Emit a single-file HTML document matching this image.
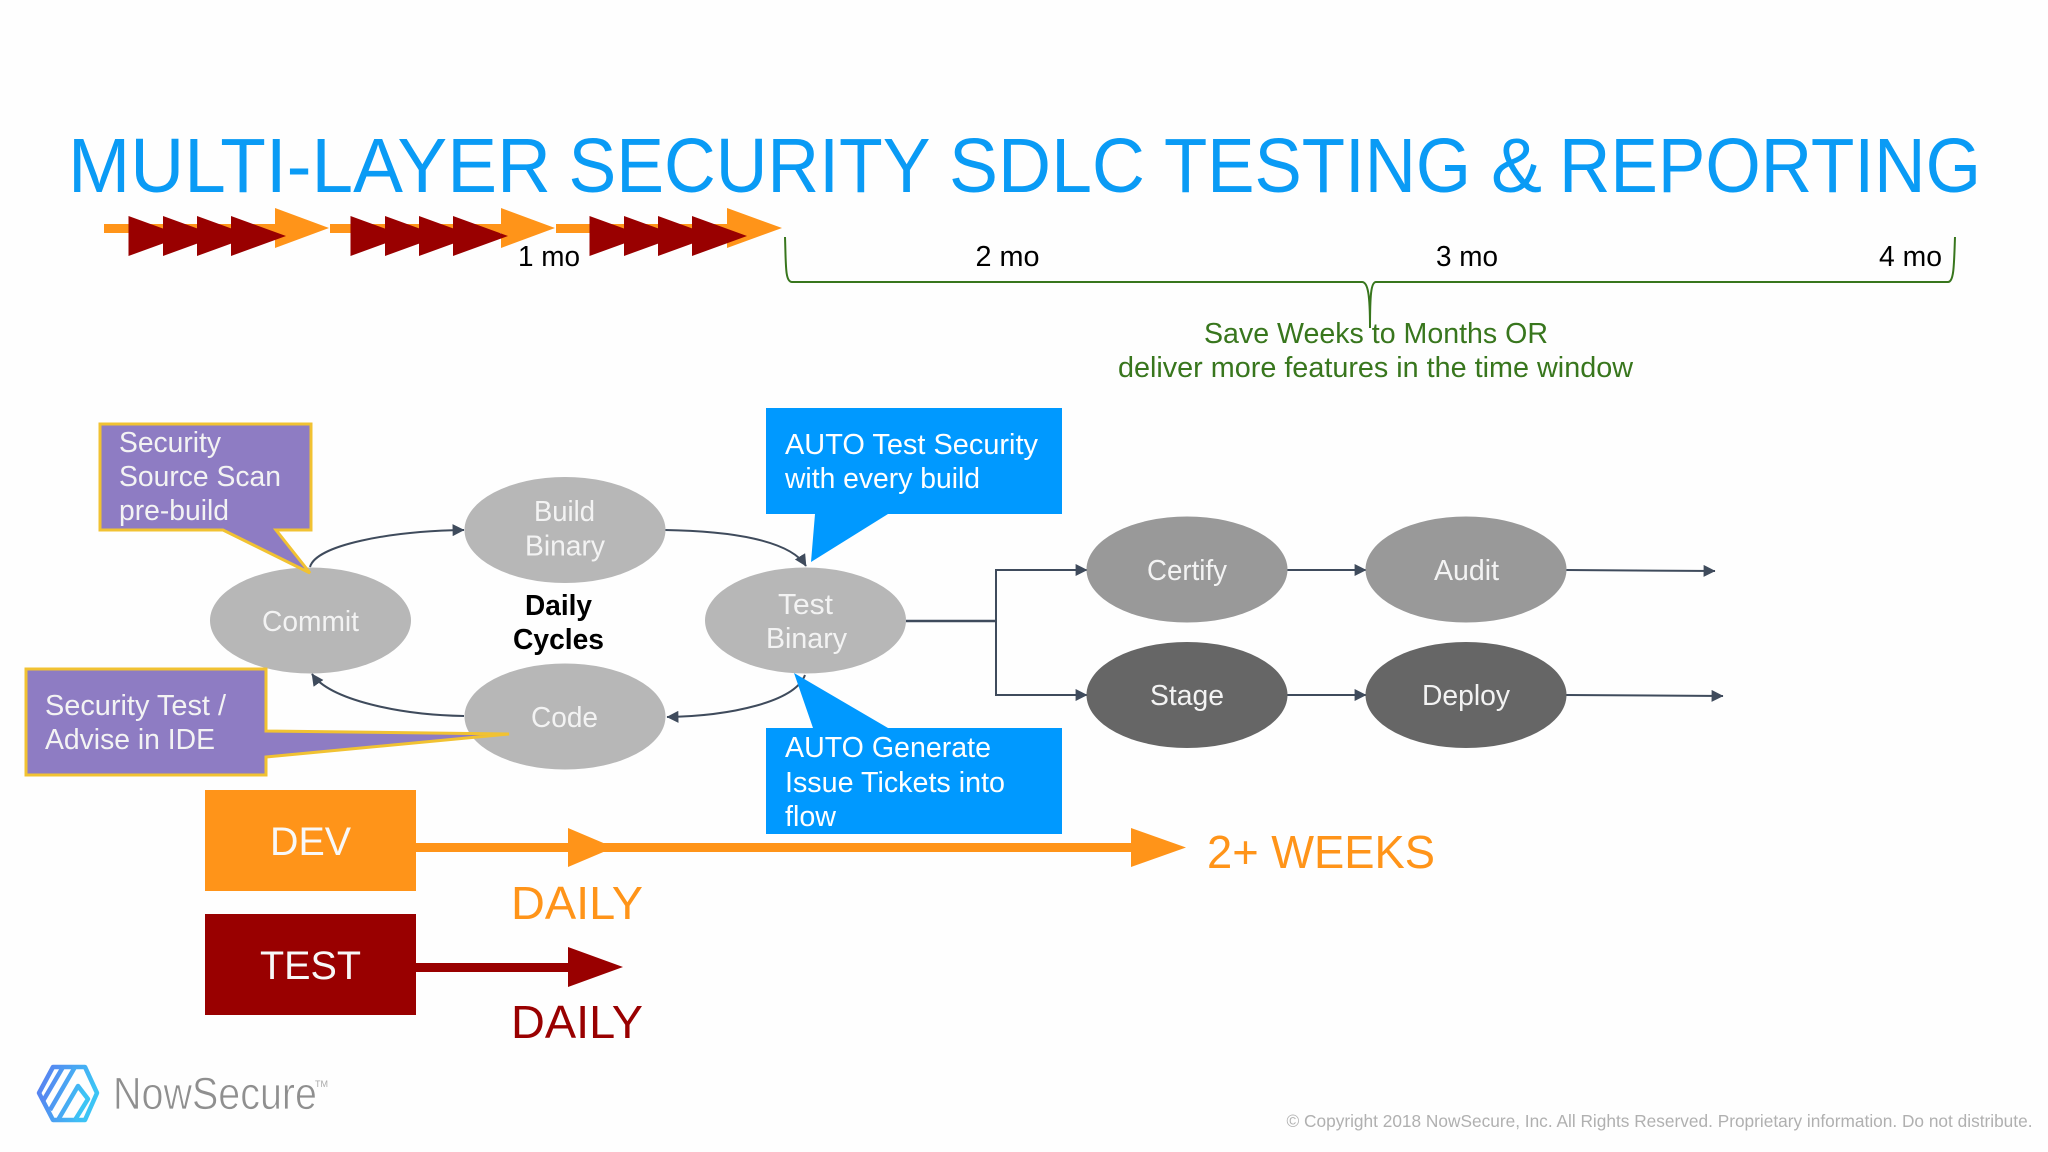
<!DOCTYPE html>
<html>
<head>
<meta charset="utf-8">
<style>
html,body{margin:0;padding:0;background:#fff;width:2048px;height:1152px;overflow:hidden}
svg{display:block}
text{font-family:"Liberation Sans",sans-serif}
</style>
</head>
<body>
<svg xmlns="http://www.w3.org/2000/svg" width="2048" height="1152" viewBox="0 0 2048 1152">
<defs>
<linearGradient id="lg" x1="0" y1="0" x2="1" y2="0.3"><stop offset="0" stop-color="#5b7cf0"/><stop offset="1" stop-color="#3cc4f5"/></linearGradient>
<marker id="a" viewBox="0 0 10 10" refX="9.5" refY="5" markerWidth="12" markerHeight="12" markerUnits="userSpaceOnUse" orient="auto"><path d="M0 0L10 5L0 10Z" fill="#3f4b5c"/></marker>
</defs>
<rect width="2048" height="1152" fill="#fefefe"/>

<g font-size="77" fill="#0a9bf5">
<text x="68" y="192" textLength="483" lengthAdjust="spacingAndGlyphs">MULTI-LAYER</text>
<text x="568.5" y="192" textLength="362" lengthAdjust="spacingAndGlyphs">SECURITY</text>
<text x="949" y="192" textLength="196" lengthAdjust="spacingAndGlyphs">SDLC</text>
<text x="1164" y="192" textLength="307" lengthAdjust="spacingAndGlyphs">TESTING</text>
<text x="1491" y="192" textLength="51" lengthAdjust="spacingAndGlyphs">&amp;</text>
<text x="1559" y="192" textLength="422" lengthAdjust="spacingAndGlyphs">REPORTING</text>
</g>

<!-- timeline arrows -->
<g fill="#ff9419">
<rect x="104" y="224" width="172" height="9"/><path d="M275 208L329 228L275 248Z"/>
<rect x="330" y="224" width="172" height="9"/><path d="M501 208L555 228L501 248Z"/>
<rect x="556" y="224" width="172" height="9"/><path d="M727 208L782 228L727 248Z"/>
</g>
<g fill="#990000">
<path d="M128.5 216L183.5 236L128.5 256Z"/><path d="M163 216L218 236L163 256Z"/><path d="M197 216L252 236L197 256Z"/><path d="M231 216L286 236L231 256Z"/>
<path d="M350.5 216L405.5 236L350.5 256Z"/><path d="M385 216L440 236L385 256Z"/><path d="M419 216L474 236L419 256Z"/><path d="M453 216L508 236L453 256Z"/>
<path d="M589.5 216L644.5 236L589.5 256Z"/><path d="M624 216L679 236L624 256Z"/><path d="M658 216L713 236L658 256Z"/><path d="M692 216L747 236L692 256Z"/>
</g>

<text x="518" y="266" font-size="29" fill="#000" textLength="62" lengthAdjust="spacingAndGlyphs">1 mo</text>
<text x="975.5" y="266" font-size="29" fill="#000" textLength="64" lengthAdjust="spacingAndGlyphs">2 mo</text>
<text x="1436" y="266" font-size="29" fill="#000" textLength="62" lengthAdjust="spacingAndGlyphs">3 mo</text>
<text x="1879" y="266" font-size="29" fill="#000" textLength="63" lengthAdjust="spacingAndGlyphs">4 mo</text>

<!-- brace -->
<path d="M785 237C786 265 785 282 792 282L1362 282C1368 282 1370 295 1370 328C1370 295 1371 282 1376 282L1948 282C1954 282 1954 265 1955 237" fill="none" stroke="#38761d" stroke-width="2"/>
<text x="1204" y="343" font-size="29" fill="#38761d" textLength="344" lengthAdjust="spacingAndGlyphs">Save Weeks to Months OR</text>
<text x="1118" y="377" font-size="29" fill="#38761d" textLength="515" lengthAdjust="spacingAndGlyphs">deliver more features in the time window</text>

<!-- connectors -->
<g fill="none" stroke="#3f4b5c" stroke-width="2" marker-end="url(#a)">
<path d="M310 567C316 545 390 531 464 530"/>
<path d="M665 530C730 531 790 540 806 566"/>
<path d="M805 675C795 702 730 716 667 717"/>
<path d="M464 716C400 715 330 700 312 674"/>
<path d="M996 621L996 570L1087 570"/>
<path d="M996 621L996 695L1087 695"/>
<path d="M1287 570L1366 570"/>
<path d="M1287 695L1366 695"/>
<path d="M1566 570L1715 571"/>
<path d="M1566 695L1723 696"/>
</g>
<path d="M906 621L996 621" stroke="#3f4b5c" stroke-width="2.5" fill="none"/>

<!-- ellipses -->
<ellipse cx="310.5" cy="620.5" rx="100.5" ry="53" fill="#b7b7b7"/>
<ellipse cx="565" cy="530" rx="100.5" ry="53" fill="#b7b7b7"/>
<ellipse cx="565" cy="716.5" rx="100.5" ry="53" fill="#b7b7b7"/>
<ellipse cx="805.5" cy="620.5" rx="100.5" ry="53" fill="#b7b7b7"/>
<ellipse cx="1187" cy="569.5" rx="100.5" ry="53" fill="#999"/>
<ellipse cx="1466" cy="569.5" rx="100.5" ry="53" fill="#999"/>
<ellipse cx="1187" cy="695" rx="100.5" ry="53" fill="#666"/>
<ellipse cx="1466" cy="695" rx="100.5" ry="53" fill="#666"/>

<!-- callouts -->
<path d="M100 424L311 424L311 530L276 530L310 573L223 530L100 530Z" fill="#8e7cc3" stroke="#f1c232" stroke-width="3"/>
<path d="M26 669L266 669L266 731L509 734L266 757L266 775L26 775Z" fill="#8e7cc3" stroke="#f1c232" stroke-width="3"/>
<path d="M766 408L1062 408L1062 514L888 514L811 562L815 514L766 514Z" fill="#0099ff"/>
<path d="M766 728L813 728L794 673L888 728L1062 728L1062 834L766 834Z" fill="#0099ff"/>

<g fill="#f3f3f3" font-size="29">
<text x="119" y="452" textLength="102" lengthAdjust="spacingAndGlyphs">Security</text>
<text x="119" y="486" textLength="162" lengthAdjust="spacingAndGlyphs">Source Scan</text>
<text x="119" y="520" textLength="110" lengthAdjust="spacingAndGlyphs">pre-build</text>
<text x="45" y="715" textLength="181" lengthAdjust="spacingAndGlyphs">Security Test /</text>
<text x="45" y="749" textLength="170" lengthAdjust="spacingAndGlyphs">Advise in IDE</text>
<text x="262" y="631" textLength="97" lengthAdjust="spacingAndGlyphs">Commit</text>
<text x="534" y="521" textLength="61" lengthAdjust="spacingAndGlyphs">Build</text>
<text x="525" y="555.5" textLength="80" lengthAdjust="spacingAndGlyphs">Binary</text>
<text x="531" y="727" textLength="67" lengthAdjust="spacingAndGlyphs">Code</text>
<text x="778" y="614" textLength="55" lengthAdjust="spacingAndGlyphs">Test</text>
<text x="766" y="648" textLength="81" lengthAdjust="spacingAndGlyphs">Binary</text>
<text x="1147" y="580" textLength="80" lengthAdjust="spacingAndGlyphs">Certify</text>
<text x="1434" y="580" textLength="65" lengthAdjust="spacingAndGlyphs">Audit</text>
<text x="1150" y="705" textLength="74" lengthAdjust="spacingAndGlyphs">Stage</text>
<text x="1422" y="705" textLength="88" lengthAdjust="spacingAndGlyphs">Deploy</text>
</g>
<g fill="#fff" font-size="29">
<text x="785" y="454" textLength="253" lengthAdjust="spacingAndGlyphs">AUTO Test Security</text>
<text x="785" y="488" textLength="195" lengthAdjust="spacingAndGlyphs">with every build</text>
<text x="785" y="757" textLength="206" lengthAdjust="spacingAndGlyphs">AUTO Generate</text>
<text x="785" y="792" textLength="220" lengthAdjust="spacingAndGlyphs">Issue Tickets into</text>
<text x="785" y="826" textLength="51" lengthAdjust="spacingAndGlyphs">flow</text>
</g>
<text x="525" y="615" font-size="29" font-weight="bold" fill="#000" textLength="67" lengthAdjust="spacingAndGlyphs">Daily</text>
<text x="513" y="649" font-size="29" font-weight="bold" fill="#000" textLength="91" lengthAdjust="spacingAndGlyphs">Cycles</text>

<!-- DEV / TEST -->
<rect x="205" y="790" width="211" height="101" fill="#ff9419"/>
<rect x="205" y="914" width="211" height="101" fill="#990000"/>
<text x="270" y="855" font-size="40" fill="#f8f8f8" textLength="81" lengthAdjust="spacingAndGlyphs">DEV</text>
<text x="260" y="979" font-size="40" fill="#f8f8f8" textLength="101" lengthAdjust="spacingAndGlyphs">TEST</text>
<g fill="#ff9419">
<rect x="416" y="843" width="716" height="9"/>
<path d="M568 828L614 847.5L568 867Z"/>
<path d="M1131 828L1186 847.5L1131 867Z"/>
</g>
<g fill="#990000">
<rect x="416" y="963" width="153" height="9"/>
<path d="M568 947L623 967L568 987Z"/>
</g>
<text x="511" y="919" font-size="46" fill="#ff9419" textLength="132" lengthAdjust="spacingAndGlyphs">DAILY</text>
<text x="511" y="1038" font-size="46" fill="#990000" textLength="132" lengthAdjust="spacingAndGlyphs">DAILY</text>
<text x="1207" y="868" font-size="46" fill="#ff9419" textLength="228" lengthAdjust="spacingAndGlyphs">2+ WEEKS</text>

<!-- logo -->
<g fill="none" stroke="url(#lg)" stroke-width="4.5" stroke-linejoin="round">
<path d="M53 1067L85 1067L97 1093L85 1120L53 1120L39 1093Z"/>
<path d="M63 1067L43 1101M75 1067L50 1110M58 1120L78 1086L88 1099L75 1120"/>
</g>
<text x="113" y="1109" font-size="45" fill="#8f8f8f" stroke="#fefefe" stroke-width="0.8" textLength="204" lengthAdjust="spacingAndGlyphs">NowSecure</text>
<text x="315" y="1087" font-size="9" fill="#aaa">TM</text>

<text x="1286.5" y="1127" font-size="17.5" fill="#b0b0b0" textLength="746" lengthAdjust="spacingAndGlyphs">© Copyright 2018 NowSecure, Inc. All Rights Reserved. Proprietary information. Do not distribute.</text>
</svg>
</body>
</html>
